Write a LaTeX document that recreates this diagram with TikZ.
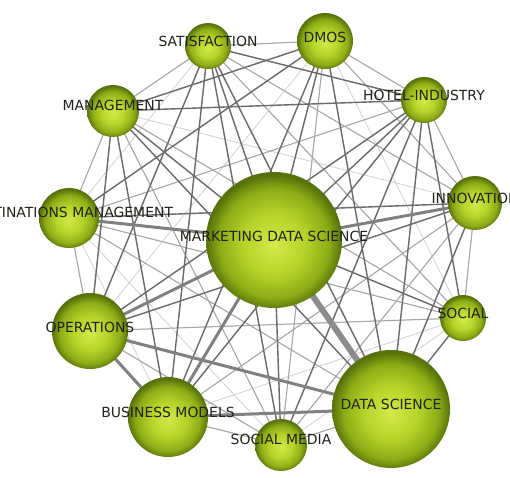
\documentclass[tikz,border=0pt]{standalone}
\usepackage{fontspec}
\setmainfont{DejaVu Sans}
\pgfdeclarelayer{background}
\pgfsetlayers{background,main}
\definecolor{gA}{HTML}{D2E94A}
\definecolor{gB}{HTML}{B8D42A}
\definecolor{gC}{HTML}{8EAC16}
\definecolor{gD}{HTML}{58720A}
\definecolor{txt}{HTML}{22221C}
\pgfdeclareradialshading{gball}{\pgfpoint{0bp}{-2bp}}{color(0bp)=(gA); color(11bp)=(gB); color(20bp)=(gC); color(25bp)=(gD); color(50bp)=(gD)}
\tikzset{
  ball/.style={circle, inner sep=0pt, shading=gball},
  lbl/.style={inner sep=0pt, text=txt, font=\fontsize{14}{15}\selectfont},
  e0/.style={draw=black!18, line width=0.8bp},
  e1/.style={draw=black!35, line width=1bp},
  e2/.style={draw=black!58, line width=1.4bp},
  e3/.style={draw=black!50, line width=3bp},
  e4/.style={draw=black!45, line width=6bp},
}
\begin{document}
\begin{tikzpicture}[x=1bp,y=-1bp]
\useasboundingbox (0,0) rectangle (510,478);
\clip (0,0) rectangle (510,478);
% nodes
\node[ball, minimum size=46bp]  (S)   at (208,46)  {};
\node[ball, minimum size=56bp]  (D)   at (325,41)  {};
\node[ball, minimum size=46bp]  (H)   at (424,100) {};
\node[ball, minimum size=52bp]  (M)   at (113,111) {};
\node[ball, minimum size=54bp]  (I)   at (475,203) {};
\node[ball, minimum size=60bp]  (DM)  at (69,218)  {};
\node[ball, minimum size=136bp] (MDS) at (274,240) {};
\node[ball, minimum size=46bp]  (SO)  at (463,318) {};
\node[ball, minimum size=76bp]  (O)   at (90,331)  {};
\node[ball, minimum size=80bp]  (B)   at (168,417) {};
\node[ball, minimum size=118bp] (DS)  at (391,409) {};
\node[ball, minimum size=52bp]  (SM)  at (281,445) {};
% labels
\node[lbl] (S-l)   at ([yshift=5bp]S.center)   {SATISFACTION};
\node[lbl] (D-l)   at ([yshift=4bp]D.center)   {DMOS};
\node[lbl] (H-l)   at ([yshift=5bp]H.center)   {HOTEL-INDUSTRY};
\node[lbl] (M-l)   at ([yshift=6bp]M.center)   {MANAGEMENT};
\node[lbl] (I-l)   at ([yshift=5bp]I.center)   {INNOVATION};
\node[lbl] (DM-l)  at ([yshift=6bp]DM.center)  {DESTINATIONS MANAGEMENT};
\node[lbl] (MDS-l) at ([yshift=4bp]MDS.center) {MARKETING DATA SCIENCE};
\node[lbl] (SO-l)  at ([yshift=5bp]SO.center)  {SOCIAL};
\node[lbl] (O-l)   at ([yshift=4bp]O.center)   {OPERATIONS};
\node[lbl] (B-l)   at ([yshift=5bp]B.center)   {BUSINESS MODELS};
\node[lbl] (DS-l)  at ([yshift=5bp]DS.center)  {DATA SCIENCE};
\node[lbl] (SM-l)  at ([yshift=6bp]SM.center)  {SOCIAL MEDIA};
% edges
\begin{pgfonlayer}{background}
\foreach \a [count=\i] in {S,D,H,M,I,DM,MDS,SO,O,B,DS,SM}{
  \foreach \b [count=\j] in {S,D,H,M,I,DM,MDS,SO,O,B,DS,SM}{
    \ifnum\j>\i \draw[e0] (\a.center) -- (\b.center); \fi
  }
}
\foreach \a/\b in {B/SM, SM/DS, DS/DM, S/M, S/D, M/DM, M/SM, B/I, SM/D, SM/I, I/H, SO/I, SO/DM, SO/O, SO/M, SO/S, D/H, DM/O, DM/H, O/SM, D/I, S/I}
  \draw[e1] (\a.center) -- (\b.center);
\foreach \a/\b in {MDS/S, MDS/D, MDS/M, MDS/H, MDS/SM, MDS/SO, DS/SO, DS/I, DS/H, DS/D, DS/S, DS/M, S/H, D/M, M/H, M/O, M/B, DM/I, O/I, O/H, B/H, B/D, B/S, SM/S, SM/H, SO/H, DM/D, O/S}
  \draw[e2] (\a.center) -- (\b.center);
\foreach \a/\b in {MDS/O, MDS/B, MDS/DM, MDS/I, O/DS, B/DS, O/B}
  \draw[e3] (\a.center) -- (\b.center);
\draw[e4] (MDS.center) -- (DS.center);
\end{pgfonlayer}
\end{tikzpicture}
\end{document}
